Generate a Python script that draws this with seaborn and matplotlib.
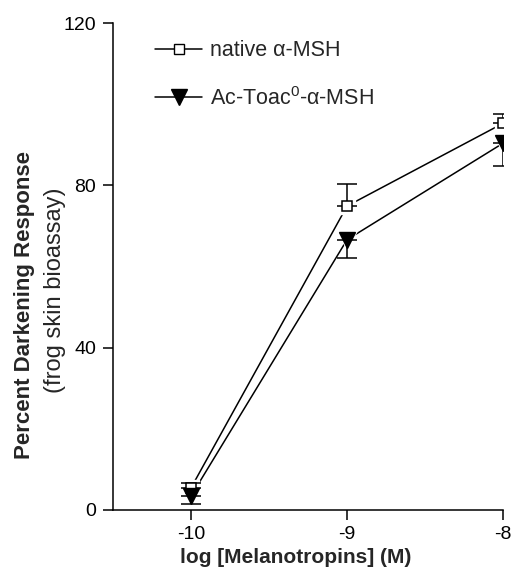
import matplotlib
matplotlib.use("Agg")
import matplotlib.pyplot as plt
from matplotlib.lines import Line2D
import pandas as pd
import seaborn as sns

# data
log_conc = [-10, -9, -8]
native_mean = [5.4, 74.9, 95.3]
native_err_up = [1.2, 5.4, 2.2]
toac_mean = [3.4, 66.6, 90.4]
toac_err_down = [1.9, 4.6, 5.7]
labels = ["native \u03b1-MSH", "Ac-Toac$^0$-\u03b1-MSH"]

sns.set_theme(style="ticks")
plt.rcParams["font.family"] = ["Liberation Sans", "DejaVu Sans"]
plt.rcParams["mathtext.fontset"] = "custom"
plt.rcParams["mathtext.rm"] = "Liberation Sans"
plt.rcParams["axes.unicode_minus"] = False

df = pd.DataFrame({
    "x": log_conc * 2,
    "y": native_mean + toac_mean,
    "series": [labels[0]] * 3 + [labels[1]] * 3,
})

fig = plt.figure(figsize=(5.16, 5.78), dpi=100)
ax = fig.add_axes([0.219, 0.118, 0.756, 0.842])

# connecting lines
sns.lineplot(
    data=df, x="x", y="y", hue="series",
    palette=["black", "black"], linewidth=1.1, ax=ax, legend=False,
)

# white gaps around the markers so the lines stop short of them
ax.plot(log_conc, native_mean, ls="none", marker="s", markersize=11,
        color="white", zorder=3)
ax.plot(log_conc, toac_mean, ls="none", marker="v", markersize=15,
        color="white", zorder=3)

# error bars (one-sided, as in the original)
ax.errorbar(log_conc, native_mean, yerr=[[0] * 3, native_err_up], fmt="none",
            ecolor="black", elinewidth=1.1, capsize=7, capthick=1.1, zorder=3.5)
ax.errorbar(log_conc, toac_mean, yerr=[toac_err_down, [0] * 3], fmt="none",
            ecolor="black", elinewidth=1.1, capsize=7, capthick=1.1, zorder=3.5)

ax.plot(log_conc, native_mean, ls="none", marker="s", markersize=7,
        markerfacecolor="white", markeredgecolor="black", markeredgewidth=1.1,
        zorder=4)
ax.plot(log_conc, toac_mean, ls="none", marker="v", markersize=11,
        markerfacecolor="black", markeredgecolor="black", zorder=4)

ax.set_xlim(-10.5, -8)
ax.set_ylim(0, 120)
ax.set_xticks([-10, -9, -8])
ax.set_yticks([0, 40, 80, 120])
ax.tick_params(labelsize=14, length=7, width=1.1, direction="out", pad=5,
               colors="black")
for s in ["top", "right"]:
    ax.spines[s].set_visible(False)
for s in ["left", "bottom"]:
    ax.spines[s].set_linewidth(1.1)
    ax.spines[s].set_color("black")

ax.set_xlabel("")
ax.set_ylabel("")
ax.text(0.469, -0.098, "log [Melanotropins] (M)", transform=ax.transAxes,
        ha="center", va="center", fontsize=15, fontweight="bold")
ax.text(-0.228, 0.42, "Percent Darkening Response", transform=ax.transAxes,
        rotation=90, ha="center", va="center", fontsize=16, fontweight="bold")
ax.text(-0.149, 0.452, "(frog skin bioassay)", transform=ax.transAxes,
        rotation=90, ha="center", va="center", fontsize=17)

handles = [
    Line2D([], [], color="black", lw=1.1, marker="s", markersize=7,
           markerfacecolor="white", markeredgecolor="black"),
    Line2D([], [], color="black", lw=1.1, marker="v", markersize=11,
           markerfacecolor="black"),
]
ax.legend(handles, labels, loc="upper left", bbox_to_anchor=(0.108, 0.965),
          frameon=False, fontsize=15.5, handlelength=2.2, handletextpad=0.35,
          labelspacing=1.2, borderpad=0, borderaxespad=0)

fig.savefig("out.png", dpi=100)
